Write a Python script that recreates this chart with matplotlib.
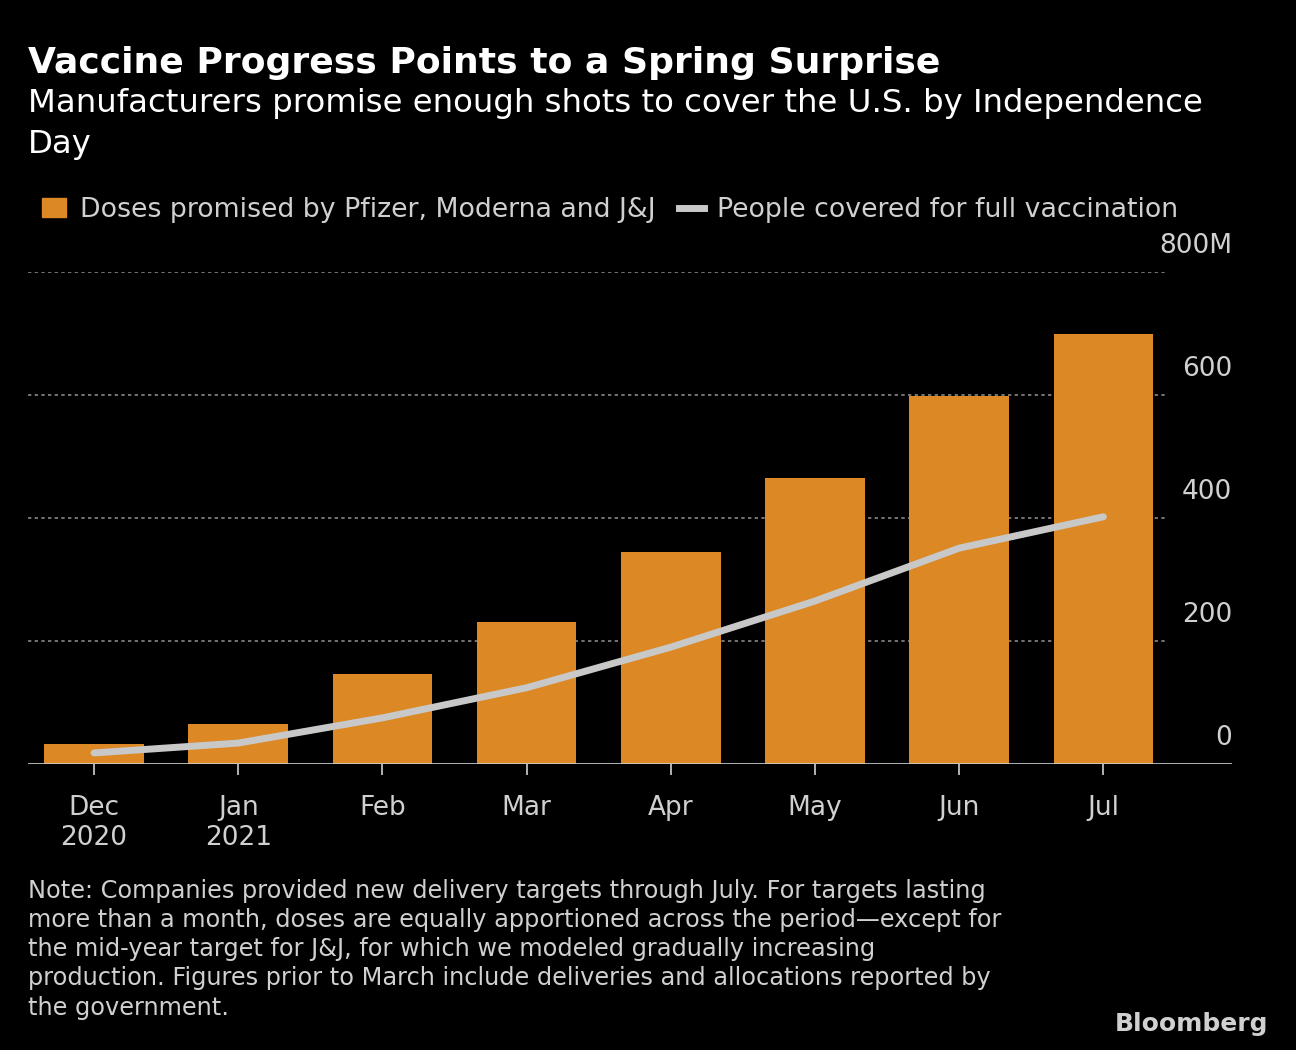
import matplotlib.pyplot as plt
from matplotlib.lines import Line2D
from matplotlib.patches import Patch

months = ["Dec\n2020", "Jan\n2021", "Feb", "Mar", "Apr", "May", "Jun", "Jul"]
doses = [32, 65, 146, 231, 345, 465, 598, 699]
people = [18, 34, 75, 124, 190, 265, 351, 402]
yticks = [0, 200, 400, 600, 800]

W, H = 1296, 1050
fig = plt.figure(figsize=(W / 100, H / 100), dpi=100, facecolor="black")
ax = fig.add_axes([28 / W, 1 - 764 / H, (1232 - 28) / W, (764 - 272) / H])
ax.set_facecolor("black")

orange = "#db8825"
x = list(range(len(months)))
ax.bar(x, doses, width=0.69, color=orange, zorder=2)
ax.plot(x, people, color="#c8c8c8", lw=5, solid_capstyle="round", zorder=3)

ax.set_xlim(-66 / 144.2, (1232 - 94) / 144.2)
ax.set_ylim(0, 800)
for s in ax.spines.values():
    s.set_visible(False)
ax.axhline(0, color="#d0d0d0", lw=1.2, zorder=4)
for v in yticks[1:]:
    ax.axhline(v, xmin=0, xmax=(1165 - 28) / 1204, color="#888888", lw=1.2, ls=(0, (2, 2)), zorder=1)
ax.set_yticks([])
for v in yticks:
    lab = "800M" if v == 800 else str(v)
    ax.text(1.0, v + 42, lab, transform=ax.get_yaxis_transform(), ha="right", va="center",
            color="#d0d0d0", fontsize=19)
ax.set_xticks(x)
ax.set_xticklabels(months, color="#d0d0d0", fontsize=19, linespacing=1.2)
ax.tick_params(axis="x", colors="#d0d0d0", length=8, width=1.2, pad=14, labelcolor="#d0d0d0")

fig.text(28 / W, 1 - 63 / H, "Vaccine Progress Points to a Spring Surprise", color="white",
         fontsize=26, fontweight="bold", va="center")
fig.text(28 / W, 1 - 88 / H, "Manufacturers promise enough shots to cover the U.S. by Independence\nDay",
         color="white", fontsize=23.3, va="top", linespacing=1.4)

handles = [Patch(color=orange), Line2D([], [], color="#c8c8c8", lw=5)]
leg = fig.legend(handles, ["Doses promised by Pfizer, Moderna and J&J", "People covered for full vaccination"],
                 loc="center left", bbox_to_anchor=(18 / W, 1 - 210 / H), ncol=2, frameon=False,
                 fontsize=19.3, handlelength=0.9, handletextpad=0.5, columnspacing=0.9)
for t in leg.get_texts():
    t.set_color("#d0d0d0")

note = ("Note: Companies provided new delivery targets through July. For targets lasting\n"
        "more than a month, doses are equally apportioned across the period\u2014except for\n"
        "the mid-year target for J&J, for which we modeled gradually increasing\n"
        "production. Figures prior to March include deliveries and allocations reported by\n"
        "the government.")
fig.text(28 / W, 1 - 879 / H, note, color="#d0d0d0", fontsize=17.3, va="top", linespacing=1.27)
fig.text(1268 / W, 1 - 1024 / H, "Bloomberg", color="#d0d0d0", fontsize=18, fontweight="bold",
         ha="right", va="center")

fig.savefig("out.png", dpi=100, facecolor="black")
